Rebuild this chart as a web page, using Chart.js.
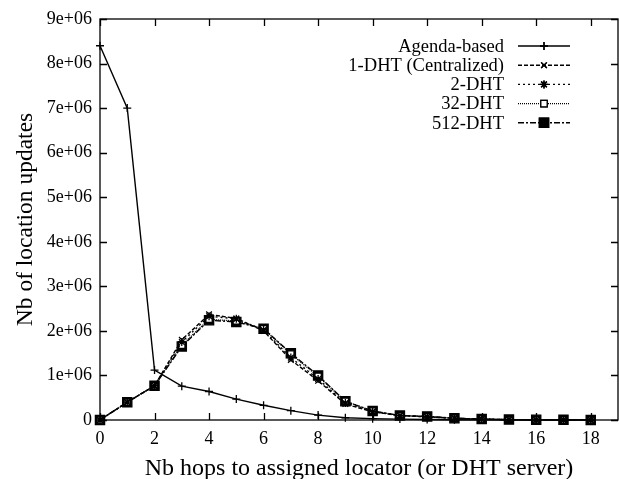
<!DOCTYPE html>
<html>
<head>
<meta charset="utf-8">
<script src="https://cdn.jsdelivr.net/npm/chart.js@4"></script>
<style>
  html, body { margin: 0; padding: 0; background: #fff; }
  #wrap { width: 619px; height: 479px; }
</style>
</head>
<body>
<div id="wrap"><canvas id="grafico" width="619" height="479"></canvas></div>
<script>
// Nb hops (x) and location updates per series
const hops = [0, 1, 2, 3, 4, 5, 6, 7, 8, 9, 10, 11, 12, 13, 14, 15, 16, 17, 18];
const agenda = [8400000, 7000000, 1120000, 760000, 640000, 470000, 330000, 210000, 110000, 50000, 30000, 20000, 10000, 5000, 3000, 1000, 0, 0, 0];
const dht1 = [0, 400000, 770000, 1800000, 2370000, 2280000, 2000000, 1350000, 880000, 360000, 180000, 100000, 70000, 40000, 20000, 10000, 5000, 3000, 2000];
const dht2 = [0, 400000, 770000, 1750000, 2330000, 2270000, 2020000, 1400000, 920000, 380000, 190000, 100000, 70000, 40000, 20000, 10000, 5000, 3000, 2000];
const dht32 = [0, 400000, 770000, 1680000, 2260000, 2220000, 2050000, 1480000, 980000, 420000, 200000, 100000, 80000, 40000, 20000, 10000, 5000, 3000, 2000];
const dht512 = [0, 400000, 770000, 1650000, 2240000, 2200000, 2050000, 1500000, 1000000, 420000, 200000, 100000, 80000, 40000, 20000, 10000, 5000, 3000, 2000];
const xTicks = [0, 2, 4, 6, 8, 10, 12, 14, 16, 18];
const yTicks = [0, 1e6, 2e6, 3e6, 4e6, 5e6, 6e6, 7e6, 8e6, 9e6];

const serif = '"Liberation Serif", "DejaVu Serif", serif';

function serie(label, values, style, dash, radius, fill) {
    return {
        label: label,
        data: values.map((v, i) => ({ x: hops[i], y: v })),
        borderColor: '#000',
        backgroundColor: fill ? '#000' : '#fff',
        pointBorderColor: '#000',
        pointBackgroundColor: fill ? '#000' : '#fff',
        borderWidth: 1.4,
        borderDash: dash,
        pointStyle: style,
        pointRadius: radius,
        pointBorderWidth: 1.3,
        tension: 0,
        fill: false
    };
}

// frame, inward ticks on all sides, and gnuplot-style key
const gnuplotFrame = {
    id: 'gnuplotFrame',
    afterDraw(chart) {
        const c = chart.ctx;
        const a = chart.chartArea;
        const sx = chart.scales.x, sy = chart.scales.y;
        c.save();
        c.strokeStyle = '#000';
        c.lineWidth = 1.3;
        c.strokeRect(a.left, a.top, a.right - a.left, a.bottom - a.top);
        c.beginPath();
        xTicks.forEach(t => {
            const px = Math.round(sx.getPixelForValue(t)) + 0.5;
            c.moveTo(px, a.bottom); c.lineTo(px, a.bottom - 7);
            c.moveTo(px, a.top); c.lineTo(px, a.top + 7);
        });
        yTicks.forEach(t => {
            const py = Math.round(sy.getPixelForValue(t)) + 0.5;
            c.moveTo(a.left, py); c.lineTo(a.left + 7, py);
            c.moveTo(a.right, py); c.lineTo(a.right - 7, py);
        });
        c.stroke();

        // key
        c.font = '18.5px ' + serif;
        c.textAlign = 'right';
        c.textBaseline = 'middle';
        chart.data.datasets.forEach((ds, i) => {
            const y = 46 + i * 19.2;
            c.fillStyle = '#000';
            c.fillText(ds.label, 504, y + 1);
            c.beginPath();
            c.setLineDash(ds.borderDash || []);
            c.lineWidth = 1.4;
            c.moveTo(518, y); c.lineTo(570, y);
            c.stroke();
            c.setLineDash([]);
            Chart.helpers.drawPoint(c, {
                pointStyle: ds.pointStyle,
                radius: ds.pointRadius,
                borderWidth: 1.3
            }, 544, y);
            c.fillStyle = ds.pointBackgroundColor;
            c.strokeStyle = '#000';
            c.lineWidth = 1.3;
            c.fill();
            c.stroke();
        });
        c.restore();
    }
};

new Chart(document.getElementById('grafico').getContext('2d'), {
    type: 'line',
    data: {
        datasets: [
            serie('Agenda-based', agenda, 'cross', [], 4, true),
            serie('1-DHT (Centralized)', dht1, 'crossRot', [4, 2], 4, true),
            serie('2-DHT', dht2, 'star', [2, 3], 4, true),
            serie('32-DHT', dht32, 'rect', [1, 1], 4.5, false),
            serie('512-DHT', dht512, 'rect', [6, 2, 2, 2], 6.5, true)
        ]
    },
    options: {
        responsive: false,
        animation: false,
        clip: false,
        layout: { autoPadding: false, padding: { top: 19, right: 1, left: 0, bottom: 0 } },
        plugins: {
            legend: { display: false },
            tooltip: { enabled: false }
        },
        scales: {
            x: {
                type: 'linear',
                min: 0,
                max: 19,
                afterBuildTicks: s => { s.ticks = xTicks.map(v => ({ value: v })); },
                afterFit: s => { s.height = 59; s.paddingLeft = 0; s.paddingRight = 0; },
                grid: { display: false, drawTicks: false },
                border: { display: false },
                ticks: {
                    color: '#000',
                    padding: 8,
                    maxRotation: 0,
                    font: { family: serif, size: 18 }
                },
                title: {
                    display: true,
                    text: 'Nb hops to assigned locator (or DHT server)',
                    color: '#000',
                    padding: { top: 4, bottom: -4 },
                    font: { family: serif, size: 24 }
                }
            },
            y: {
                min: 0,
                max: 9000000,
                afterBuildTicks: s => { s.ticks = yTicks.map(v => ({ value: v })); },
                afterFit: s => { s.width = 100; },
                grid: { display: false, drawTicks: false },
                border: { display: false },
                ticks: {
                    color: '#000',
                    padding: 8,
                    font: { family: serif, size: 18 },
                    callback: v => v === 0 ? '0' : (v / 1e6) + 'e+06'
                },
                title: {
                    display: true,
                    text: 'Nb of location updates',
                    color: '#000',
                    padding: { top: 12, bottom: 0 },
                    font: { family: serif, size: 23.5 }
                }
            }
        }
    },
    plugins: [gnuplotFrame]
});
</script>
</body>
</html>
